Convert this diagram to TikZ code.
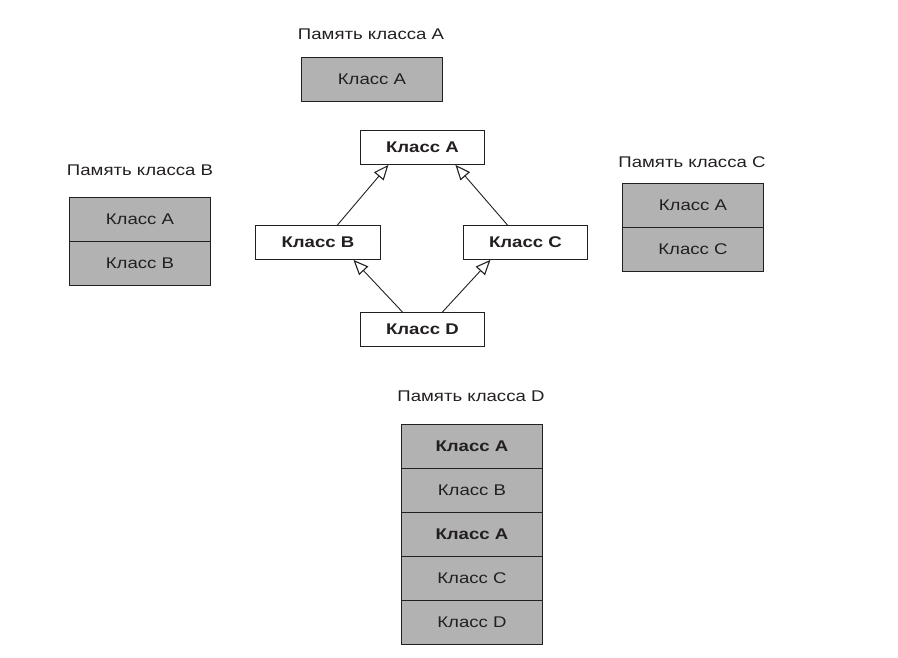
\documentclass[tikz,border=0pt]{standalone}
\usepackage{fontspec}
\setmainfont{Liberation Sans}[FakeStretch=1.2]
\usetikzlibrary{arrows.meta}
\definecolor{ink}{HTML}{231F20}
\definecolor{memgray}{HTML}{B2B2B2}
\begin{document}
\begin{tikzpicture}[x=1pt,y=-1pt,
  memcell/.style={draw=ink, line width=0.9pt, fill=memgray, minimum width=141pt, minimum height=44pt, inner sep=0pt, text=ink, font=\fontsize{15.5}{18}\selectfont, anchor=north west},
  memlabel/.style={text=ink, font=\fontsize{15.5}{18}\selectfont, inner sep=0pt},
  classbox/.style={draw=ink, line width=0.9pt, fill=white, minimum width=124pt, minimum height=34pt, inner sep=0pt, text=ink, font=\fontsize{15.5}{18}\selectfont\bfseries, anchor=north west},
  inherit/.style={draw=ink, line width=0.9pt, -{Triangle[open, length=15pt, width=12.5pt, line width=1.1pt]}}
]
\useasboundingbox (0,0) rectangle (898,658);
% Memory of class A
\node[memlabel] (lA) at (371,34) {Память класса A};
\node[memcell] (mA1) at (301,57) {Класс A};
% Memory of class B
\node[memlabel] (lB) at (140,170) {Память класса B};
\node[memcell] (mB1) at (69,197) {Класс A};
\node[memcell] (mB2) at (69,241) {Класс B};
% Memory of class C
\node[memlabel] (lC) at (692,162) {Память класса C};
\node[memcell] (mC1) at (622,183) {Класс A};
\node[memcell] (mC2) at (622,227) {Класс C};
% Memory of class D
\node[memlabel] (lD) at (471,396) {Память класса D};
\node[memcell, font=\fontsize{15.5}{18}\selectfont\bfseries] (mD1) at (401,424) {Класс A};
\node[memcell] (mD2) at (401,468) {Класс B};
\node[memcell, font=\fontsize{15.5}{18}\selectfont\bfseries] (mD3) at (401,512) {Класс A};
\node[memcell] (mD4) at (401,556) {Класс C};
\node[memcell] (mD5) at (401,600) {Класс D};
% Class diagram
\node[classbox] (cA) at (360,130) {Класс A};
\node[classbox, minimum width=125pt] (cB) at (255,225) {Класс B};
\node[classbox] (cC) at (463,225) {Класс C};
\node[classbox] (cD) at (360,312) {Класс D};
\draw[inherit] ([xshift=19.5pt]cB.north) -- ([xshift=-34pt]cA.south);
\draw[inherit] ([xshift=-18pt]cC.north) -- ([xshift=33pt]cA.south);
\draw[inherit] ([xshift=-20pt]cD.north) -- ([xshift=35.5pt]cB.south);
\draw[inherit] ([xshift=20pt]cD.north) -- ([xshift=-35pt]cC.south);
\end{tikzpicture}
\end{document}
